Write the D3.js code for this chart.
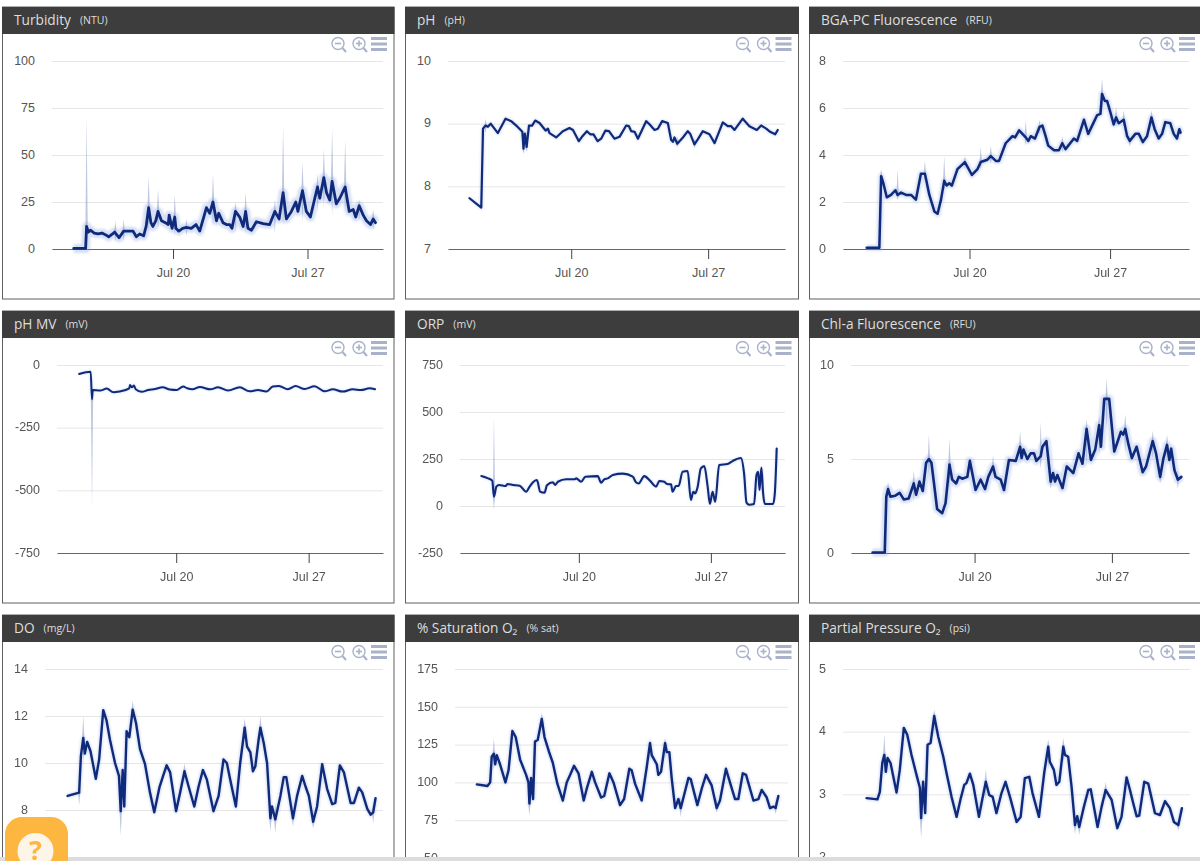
<!DOCTYPE html>
<html><head><meta charset="utf-8"><title>Water quality sensors</title>
<script src="https://cdn.jsdelivr.net/npm/d3@7/dist/d3.min.js"></script>
<style>
html,body{margin:0;padding:0;background:#fff;overflow:hidden;width:1200px;height:861px}
svg{display:block;font-family:"Open Sans",sans-serif;filter:blur(.35px)}
.grid line{stroke:#e6e6e6}
.grid path{display:none}
.ylab text{fill:#555;font-size:12.5px}
.ylab path,.ylab line{display:none}
.xax path{stroke:#666}
.xax line{stroke:#444}
.xax text{fill:#555;font-size:12.5px}
</style></head><body>
<script>
// ---- Data: day of July, value; spikes are the faint min/max whiskers ----
const turbidityDays=[14.83,15.45,15.5,15.6,15.7,15.9,16.1,16.3,16.5,16.65,16.85,16.96,17.19,17.43,17.92,18.09,18.26,18.47,18.6,18.73,18.85,18.95,19.1,19.22,19.4,19.6,19.75,19.8,19.95,20.09,20.15,20.3,20.5,20.7,20.95,21.2,21.39,21.74,21.91,22.08,22.26,22.38,22.6,22.78,22.95,23.07,23.25,23.47,23.65,23.78,23.9,24.08,24.34,24.69,25.03,25.3,25.52,25.73,25.9,26.16,26.39,26.5,26.74,26.94,27.15,27.38,27.52,27.64,27.85,27.99,28.16,28.28,28.5,28.68,28.96,29.17,29.38,29.51,29.69,29.9,30.07,30.28,30.42,30.54];
const turbidityValues=[0.3,0.3,12,9,10,8.5,8,8.5,7.5,6.5,8,9,6,9.5,9.5,6.5,8,7,12,22,14,12,15,20,15,14,13,18,11,17,11,9.5,11,11.5,11,13,9.5,22,19,25,15,19,14,13,13,11,20,17,12,20,11,10,14.5,13.5,13,20,16,30,16,20,25,20,31,20,17,27,33,27,38,30,26,36,24,27,33,20,21,17,23,18,15,13,16,14];
const turbiditySpikeDays=[15.5,17.0,17.43,18.73,19.22,20.09,20.7,22.08,23.25,23.78,25.3,25.73,26.74,27.52,27.85,28.28,28.96,29.69,30.42];
const turbiditySpikeHighs=[70,15,16,39,32,29,16,40,25,30,26,65,46,40,53,64,58,26,21];
const turbiditySpikeLows=[0.5,4,4,9,10,7,7,12,9,8,8,12,14,20,22,18,20,15,10];

const phDays=[14.8,15.4,15.49,15.62,15.74,15.88,16.25,16.64,16.93,17.19,17.5,17.56,17.63,17.72,17.84,18.0,18.16,18.38,18.69,18.81,18.89,19.23,19.57,19.91,20.09,20.39,20.55,20.8,20.97,21.14,21.35,21.53,21.75,21.93,22.21,22.47,22.81,22.95,23.07,23.24,23.41,23.83,24.0,24.26,24.43,24.65,24.94,25.11,25.2,25.28,25.42,25.71,25.96,26.08,26.3,26.47,26.73,27.07,27.33,27.75,28.0,28.18,28.35,28.77,29.11,29.49,29.71,29.97,30.17,30.43,30.56];
const phValues=[7.81,7.66,8.92,8.97,8.95,9.0,8.85,9.08,9.04,8.97,8.87,8.6,8.84,8.63,8.97,8.97,9.05,9.01,8.89,8.92,8.85,8.78,8.88,8.93,8.9,8.72,8.79,8.88,8.83,8.83,8.72,8.76,8.89,8.88,8.76,8.79,8.97,8.96,8.88,8.87,8.76,9.04,8.99,8.9,8.92,9.04,9.01,8.74,8.71,8.78,8.68,8.78,8.88,8.84,8.67,8.75,8.88,8.83,8.69,9.02,8.96,8.96,8.9,9.08,8.96,8.9,8.97,8.92,8.87,8.83,8.9];
const phSpikeDays=[15.62,17.56,17.72,25.42,26.3];
const phSpikeHighs=[9.08,8.9,8.9,8.8,8.75];
const phSpikeLows=[8.85,8.52,8.55,8.62,8.6];

const bgaDays=[14.88,15.51,15.6,15.71,15.88,16.09,16.31,16.42,16.59,16.84,17.09,17.33,17.58,17.78,18.0,18.25,18.41,18.58,18.74,18.86,18.99,19.12,19.4,19.77,20.12,20.4,20.56,20.89,21.06,21.31,21.47,21.8,22.14,22.27,22.47,22.8,22.93,23.05,23.26,23.49,23.63,23.79,23.92,24.21,24.45,24.62,24.78,25.2,25.36,25.7,25.91,26.19,26.36,26.52,26.6,26.74,26.85,27.02,27.18,27.3,27.43,27.68,27.85,27.98,28.26,28.43,28.63,28.84,29.06,29.22,29.42,29.59,29.75,30.0,30.17,30.33,30.45,30.51];
const bgaValues=[0.05,0.05,3.1,2.8,2.2,2.3,2.5,2.3,2.4,2.3,2.3,2.1,3.2,3.2,2.3,1.6,1.5,2.1,2.9,2.7,2.8,2.7,3.4,3.7,3.15,3.4,3.7,3.8,3.95,3.75,3.75,4.5,4.8,4.75,5.05,4.75,4.6,4.8,4.7,5.2,5.25,4.8,4.4,4.2,4.2,4.5,4.25,4.7,4.6,5.5,4.9,5.4,5.7,5.75,6.6,6.3,6.3,5.8,5.3,5.6,5.35,5.5,4.8,4.6,4.9,4.9,4.55,4.8,5.6,5.1,4.7,4.9,5.4,5.35,4.9,4.7,5.1,4.95];
const bgaSpikeDays=[15.6,16.42,17.78,18.74,19.77,20.56,21.06,22.8,23.49,24.62,26.6,27.3,27.68,27.98,29.06];
const bgaSpikeHighs=[3.4,3.4,3.75,3.95,3.95,4.35,4.4,5.5,5.5,4.8,7.25,6.05,5.9,4.8,5.9];
const bgaSpikeLows=[2.7,2.1,2.9,2.5,3.4,3.4,3.6,4.4,4.9,4.1,5.9,5.2,5.2,4.35,5.2];

const phMvDays=[14.87,15.48,15.55,15.59,15.98,16.33,16.68,17.0,17.52,17.56,17.66,17.77,17.86,18.17,18.52,18.88,19.28,19.67,20.02,20.37,20.58,20.86,21.25,21.81,22.21,22.74,23.36,23.88,24.32,24.76,25.11,25.43,25.9,26.31,26.79,27.31,27.84,28.28,28.8,29.33,29.77,30.21,30.51];
const phMvValues=[-36,-27,-137,-100,-102,-94,-109,-106,-93,-80,-89,-82,-97,-107,-100,-96,-89,-98,-100,-86,-93,-97,-88,-97,-89,-102,-89,-105,-100,-106,-86,-84,-97,-84,-96,-85,-105,-97,-106,-97,-100,-93,-97];
const phMvSpikeDays=[15.55];
const phMvSpikeHighs=[-100];
const phMvSpikeLows=[-565];

const orpDays=[14.83,15.19,15.41,15.5,15.63,15.77,16.12,16.21,16.51,16.86,17.21,17.39,17.6,17.78,17.95,18.18,18.31,18.62,18.75,18.89,19.33,19.77,19.86,20.12,20.35,21.0,21.18,21.36,21.53,21.8,22.33,22.86,23.03,23.17,23.47,23.77,24.09,24.27,24.53,24.67,24.89,24.97,25.15,25.29,25.5,25.77,25.94,26.07,26.17,26.3,26.47,26.65,26.83,26.95,27.09,27.23,27.44,27.88,28.15,28.59,28.76,28.89,29.03,29.29,29.42,29.51,29.58,29.68,29.77,29.86,30.3,30.39,30.49];
const orpValues=[159,147,135,50,103,112,106,117,112,108,76,103,129,138,76,71,110,126,112,129,142,142,147,129,156,159,124,143,147,165,172,156,126,120,159,135,103,133,129,117,115,76,106,106,182,186,32,76,67,103,200,212,103,11,76,23,218,223,239,255,173,18,7,11,165,182,85,204,67,11,11,67,306];
const orpSpikeDays=[15.5];
const orpSpikeHighs=[475];
const orpSpikeLows=[-20];

const chlDays=[14.8,15.42,15.5,15.59,15.71,15.96,16.18,16.39,16.64,16.9,17.02,17.19,17.36,17.53,17.67,17.8,17.92,18.09,18.35,18.52,18.72,18.86,19.06,19.2,19.37,19.63,19.76,19.88,20.05,20.31,20.53,20.7,20.94,21.07,21.33,21.5,21.75,22.1,22.32,22.4,22.49,22.69,22.86,23.03,23.15,23.37,23.46,23.66,23.88,24.0,24.1,24.22,24.48,24.7,25.03,25.3,25.5,25.71,25.93,26.15,26.35,26.44,26.61,26.86,27.12,27.46,27.58,27.68,27.85,28.02,28.26,28.57,28.74,29.08,29.25,29.46,29.63,29.81,29.93,30.02,30.19,30.36,30.54];
const chlValues=[0.03,0.03,3.0,3.4,3.0,3.05,3.2,2.85,2.9,3.7,3.1,3.8,3.3,4.8,5.0,4.8,3.8,2.34,2.12,2.65,4.7,3.9,3.7,4.05,3.95,4.05,4.9,4.25,3.35,3.9,3.4,4.05,4.6,4.05,3.9,3.35,4.95,4.9,5.65,5.05,5.5,5.0,5.3,5.3,4.9,5.15,5.65,5.95,3.8,4.25,3.8,4.15,3.45,4.6,4.25,5.3,4.75,6.6,4.95,5.5,6.8,5.65,8.2,8.2,5.4,6.45,6.3,6.6,5.75,5.05,5.65,4.3,4.6,5.95,5.3,4.05,5.05,5.75,4.95,5.55,4.4,3.9,4.05];
const chlSpikeDays=[15.59,16.9,17.67,18.72,20.94,22.32,23.37,23.88,25.71,26.35,26.73,27.68,29.08,29.46,29.81,30.36];
const chlSpikeHighs=[3.75,4.4,6.3,6.1,5.2,6.5,7.0,4.6,7.1,7.3,9.3,7.4,6.5,4.7,6.3,4.4];
const chlSpikeLows=[2.7,2.7,4.2,3.5,4.1,4.7,4.5,3.4,4.6,5.1,6.6,5.3,5.0,3.7,4.8,3.4];

const doDays=[14.85,15.44,15.53,15.65,15.73,15.85,16.02,16.29,16.46,16.67,16.84,17.01,17.27,17.47,17.56,17.66,17.74,17.86,18.0,18.17,18.34,18.54,18.8,19.05,19.27,19.53,19.7,19.9,20.08,20.38,20.59,20.81,21.02,21.31,21.53,21.75,21.95,22.29,22.55,22.8,22.97,23.14,23.43,23.65,23.88,24.0,24.17,24.3,24.42,24.59,24.68,24.85,25.02,25.19,25.27,25.44,25.7,25.87,26.0,26.34,26.55,26.81,26.98,27.15,27.37,27.57,27.83,28.08,28.34,28.5,28.73,28.94,29.28,29.45,29.7,29.87,30.13,30.3,30.43,30.55];
const doValues=[8.6,8.74,10.3,11.07,10.4,10.9,10.5,9.33,10.15,12.25,11.8,11.0,10.0,9.45,7.95,9.7,8.15,11.35,11.1,12.27,11.7,10.6,9.95,8.75,7.9,8.95,9.4,9.9,9.6,7.95,8.75,9.65,9.0,8.15,9.0,9.7,9.3,7.95,8.6,10.15,10.0,9.3,8.15,10.0,11.5,10.7,10.45,9.65,9.85,11.0,11.5,10.85,10.0,7.65,8.15,7.6,8.6,9.4,9.4,7.65,8.6,9.45,9.0,8.6,7.5,8.15,9.95,8.9,8.25,8.3,9.9,9.6,8.3,8.3,8.95,8.75,8.05,7.8,7.9,8.5];
const doSpikeDays=[15.44,15.65,17.56,18.17,20.81,23.88,24.68,25.19,25.44,26.34,27.37,30.43];
const doSpikeHighs=[8.9,12.0,9.8,12.65,10.0,11.9,12.0,8.3,8.3,8,8,8.3];
const doSpikeLows=[8.2,10.0,6.9,11.8,9.2,11.0,11.0,7.1,7.0,7.3,7.2,7.4];

const satDays=[14.83,15.38,15.52,15.6,15.71,15.78,15.86,16.03,16.31,16.47,16.67,16.84,17.07,17.38,17.5,17.55,17.64,17.74,17.84,17.98,18.19,18.33,18.57,18.76,19.0,19.28,19.48,19.66,19.86,20.09,20.36,20.52,20.78,20.95,21.26,21.42,21.69,21.9,22.24,22.45,22.72,22.84,23.02,23.36,23.62,23.79,23.88,24.14,24.22,24.36,24.57,24.66,24.79,24.91,25.09,25.26,25.38,25.6,25.78,25.9,26.24,26.47,26.69,26.98,27.24,27.41,27.72,28.02,28.19,28.36,28.59,28.76,29.14,29.4,29.57,29.83,30.0,30.17,30.29,30.43];
const satValues=[98.7,97.6,100,117,119,112,118,112,100,108,134,130,115,105,100,86,103,89,127,128,142,130,120,113,99,88,100,105,111,106,88,96,107,100,90,91,106,100,85,89,109,108,99,88,110,126,118,112,105,107,126,120,120,103,83,89,83,94,103,102,85,96,105,98,83,88,109,96,89,89,106,105,88,89,95,90,83,84,83,91];
const satSpikeDays=[15.71,17.55,18.19,23.79,24.57,25.38,27.24,30.29];
const satSpikeHighs=[129,105,146,128,129,90,90,88];
const satSpikeLows=[108,78,135,115,115,77,80,79];

const ppDays=[14.87,15.41,15.53,15.65,15.75,15.83,15.91,16.06,16.36,16.52,16.72,16.89,17.1,17.35,17.52,17.58,17.68,17.78,17.9,18.05,18.23,18.43,18.68,18.84,19.09,19.34,19.55,19.72,19.83,20.0,20.17,20.45,20.61,20.79,20.96,21.13,21.32,21.57,21.77,21.99,22.32,22.52,22.73,22.95,23.11,23.43,23.69,23.89,23.97,24.17,24.3,24.44,24.64,24.72,24.88,25.05,25.22,25.33,25.43,25.66,25.88,26.0,26.34,26.54,26.74,27.04,27.32,27.53,27.78,27.95,28.11,28.28,28.41,28.66,28.86,29.19,29.44,29.69,29.93,30.13,30.35,30.53];
const ppValues=[2.94,2.92,3.04,3.5,3.63,3.36,3.58,3.5,3.03,3.39,4.06,3.95,3.63,3.31,3.1,2.62,3.2,2.7,3.79,3.82,4.25,3.92,3.6,3.34,2.96,2.64,2.94,3.15,3.18,3.33,3.15,2.64,2.91,3.2,2.99,2.96,2.7,3.02,3.2,2.96,2.56,2.64,3.26,3.28,3.02,2.64,3.34,3.76,3.52,3.39,3.15,3.2,3.76,3.63,3.6,3.12,2.51,2.65,2.48,2.8,3.07,3.08,2.48,2.8,3.07,2.91,2.46,2.64,3.27,3.07,2.86,2.65,2.66,3.2,3.17,2.7,2.67,2.89,2.78,2.56,2.51,2.78];
const ppSpikeDays=[15.75,17.58,18.23,20.79,23.89,24.64,25.22,25.43,26.74,30.35];
const ppSpikeHighs=[3.95,3.2,4.35,3.4,3.88,3.9,2.65,2.65,3.2,2.6];
const ppSpikeLows=[3.3,2.3,4.0,2.9,3.4,3.5,2.36,2.35,2.9,2.42];

const yTicksTurbidity=[0,25,50,75,100], yTicksPh=[7,8,9,10], yTicksBga=[0,2,4,6,8];
const yTicksPhMv=[-750,-500,-250,0], yTicksOrp=[-250,0,250,500,750], yTicksChl=[0,5,10];
const yTicksDo=[8,10,12,14], yTicksSat=[50,75,100,125,150,175], yTicksPp=[2,3,4,5];
const yDomainDo=[6,14];
const xTickDays=[20,27];
const xDomainDays=[13.7,30.93];

// ---- Layout ----
const panels=[
 {t:"Turbidity",u:"(NTU)",px:2.5,pr:394,py:7,l:52,r:383,top:61,bot:249,tk:yTicksTurbidity,d:turbidityDays,v:turbidityValues,sd:turbiditySpikeDays,sh:turbiditySpikeHighs,sl:turbiditySpikeLows,halo:9,lw:2.8},
 {t:"pH",u:"(pH)",px:405.5,pr:798.5,py:7,l:448,r:785,top:61,bot:249,tk:yTicksPh,d:phDays,v:phValues,sd:phSpikeDays,sh:phSpikeHighs,sl:phSpikeLows,halo:3.5,lw:2.2},
 {t:"BGA-PC Fluorescence",u:"(RFU)",px:809.5,pr:1203,py:7,l:843,r:1189,top:61,bot:249,tk:yTicksBga,d:bgaDays,v:bgaValues,sd:bgaSpikeDays,sh:bgaSpikeHighs,sl:bgaSpikeLows,halo:6,lw:2.5},
 {t:"pH MV",u:"(mV)",px:2.5,pr:394,py:311,l:57,r:383,top:365,bot:553,tk:yTicksPhMv,d:phMvDays,v:phMvValues,sd:phMvSpikeDays,sh:phMvSpikeHighs,sl:phMvSpikeLows,halo:2.6,lw:2,smooth:true},
 {t:"ORP",u:"(mV)",px:405.5,pr:798.5,py:311,l:460,r:785,top:365,bot:553,tk:yTicksOrp,d:orpDays,v:orpValues,sd:orpSpikeDays,sh:orpSpikeHighs,sl:orpSpikeLows,halo:2.8,lw:2.1,smooth:true},
 {t:"Chl-a Fluorescence",u:"(RFU)",px:809.5,pr:1203,py:311,l:851,r:1189,top:365,bot:553,tk:yTicksChl,d:chlDays,v:chlValues,sd:chlSpikeDays,sh:chlSpikeHighs,sl:chlSpikeLows,halo:8,lw:2.6},
 {t:"DO",u:"(mg/L)",px:2.5,pr:394,py:615,l:45,r:383,top:669,bot:857,tk:yTicksDo,dom:yDomainDo,d:doDays,v:doValues,sd:doSpikeDays,sh:doSpikeHighs,sl:doSpikeLows,halo:4.5,lw:2.4,noX:true},
 {t:"% Saturation O₂",u:"(% sat)",px:405.5,pr:798.5,py:615,l:455,r:788,top:669,bot:858,tk:yTicksSat,d:satDays,v:satValues,sd:satSpikeDays,sh:satSpikeHighs,sl:satSpikeLows,halo:4.5,lw:2.4,noX:true},
 {t:"Partial Pressure O₂",u:"(psi)",px:809.5,pr:1203,py:615,l:843,r:1190,top:669,bot:857,tk:yTicksPp,d:ppDays,v:ppValues,sd:ppSpikeDays,sh:ppSpikeHighs,sl:ppSpikeLows,halo:4.5,lw:2.4,noX:true}
];
const HEAD=27, PANEL_H=292, NAVY="#0f2a7a", HALO="#7f9ce0", SPIKE="#7d8fbd", ICON="#a9b2c9";
const toDate=d=>new Date(Date.UTC(2020,6,1)+(d-1)*864e5);

const svg=d3.select("body").append("svg").attr("width",1200).attr("height",861);

panels.forEach(p=>{
  const g=svg.append("g");
  g.append("rect").attr("x",p.px).attr("y",p.py).attr("width",p.pr-p.px).attr("height",PANEL_H)
    .attr("fill","#fff").attr("stroke","#5f5f5f");
  g.append("rect").attr("x",p.px-.5).attr("y",p.py).attr("width",p.pr-p.px+1).attr("height",HEAD).attr("fill","#3d3d3d");
  const title=g.append("text").attr("x",p.px+11.5).attr("y",p.py+18).attr("fill","#dedede").attr("font-size",13.7).text(p.t);
  title.append("tspan").attr("dx",9).attr("dy",-1).attr("font-size",10.5).text(p.u);

  const x=d3.scaleUtc().domain(xDomainDays.map(toDate)).range([p.l,p.r]);
  const y=d3.scaleLinear().domain(p.dom||d3.extent(p.tk)).range([p.bot,p.top]);

  g.append("g").attr("class","grid").attr("transform",`translate(${p.l},0)`)
    .call(d3.axisLeft(y).tickValues(p.tk).tickSize(-(p.r-p.l)).tickFormat(""));
  g.append("g").attr("class","ylab").attr("transform",`translate(${p.l-4},0)`)
    .call(d3.axisLeft(y).tickValues(p.tk).tickSize(0).tickPadding(13).tickFormat(String))
    .selectAll("text").attr("dy",".26em");
  if(!p.noX) g.append("g").attr("class","xax").attr("transform",`translate(0,${p.bot})`)
    .call(d3.axisBottom(x).tickValues(xTickDays.map(toDate)).tickSize(10).tickSizeOuter(0).tickPadding(9).tickFormat(d3.utcFormat("%b %d")));

  const pts=p.d.map((d,i)=>({d,v:p.v[i]}));
  const bis=d3.bisector(o=>o.d).center;
  const spikeArea=d3.area().x(o=>x(toDate(o.d))).y0(o=>y(o.lo)).y1(o=>y(o.hi));
  p.sd.forEach((d,i)=>{
    const m=pts[bis(pts,d)].v;
    g.append("path").attr("fill",SPIKE).attr("fill-opacity",.5)
     .attr("d",spikeArea([{d:d-.06,lo:m,hi:m},{d,lo:p.sl[i],hi:p.sh[i]},{d:d+.06,lo:m,hi:m}]));
  });
  const line=d3.line().curve(p.smooth?d3.curveMonotoneX:d3.curveLinear).x(o=>x(toDate(o.d))).y(o=>y(o.v));
  g.append("path").attr("d",line(pts)).attr("fill","none").attr("stroke",HALO).attr("stroke-opacity",.32)
    .attr("stroke-width",p.halo).attr("stroke-linejoin","round").style("filter","blur(1.2px)");
  g.append("path").attr("d",line(pts)).attr("fill","none").attr("stroke",NAVY).attr("stroke-width",p.lw)
    .attr("stroke-linejoin","round").attr("stroke-linecap","round");

  // toolbar icons
  const ic=g.append("g").attr("transform",`translate(${Math.min(p.pr,1202)-7},${p.py+30})`).attr("fill","none").attr("stroke",ICON);
  [[-49,false],[-28,true]].forEach(([cx,plus])=>{
    ic.append("circle").attr("cx",cx).attr("cy",6.5).attr("r",6).attr("stroke-width",1.4);
    ic.append("line").attr("x1",cx+4.5).attr("y1",11).attr("x2",cx+8).attr("y2",15).attr("stroke-width",2);
    ic.append("line").attr("x1",cx-3).attr("x2",cx+3).attr("y1",6.5).attr("y2",6.5).attr("stroke-width",1.6);
    if(plus) ic.append("line").attr("x1",cx).attr("x2",cx).attr("y1",3.5).attr("y2",9.5).attr("stroke-width",1.6);
  });
  [1.5,7,12.5].forEach(yy=>ic.append("line").attr("x1",-16).attr("x2",0).attr("y1",yy).attr("y2",yy).attr("stroke-width",3));
});

// page footer bar and help button
svg.append("rect").attr("x",0).attr("y",857).attr("width",1200).attr("height",4).attr("fill","#dcdcdc");
svg.append("rect").attr("x",5).attr("y",817).attr("width",63).attr("height",70).attr("rx",17).attr("fill","#fdb63f");
svg.append("circle").attr("cx",35.5).attr("cy",851).attr("r",18).attr("fill","#fdf6e8");
svg.append("text").attr("x",35.5).attr("y",860).attr("text-anchor","middle").attr("font-size",27).attr("font-weight",700).attr("fill","#fdb63f").text("?");
</script></body></html>
